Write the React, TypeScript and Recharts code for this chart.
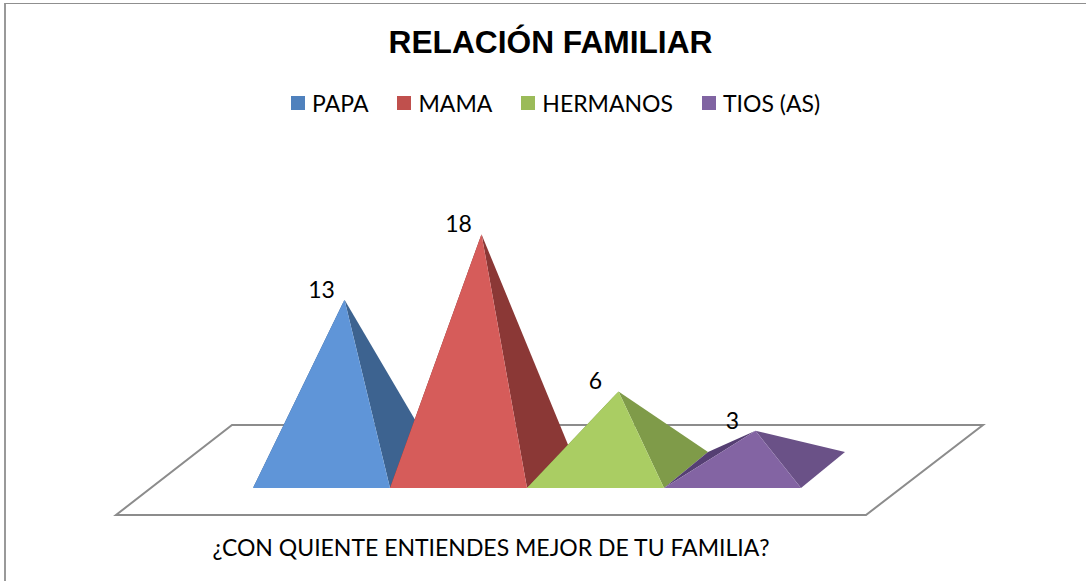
import { BarChart, Bar, XAxis, YAxis, Legend, LabelList } from "recharts";

const categories = ["¿CON QUIENTE ENTIENDES MEJOR DE TU FAMILIA?"];
const seriesNames = ["PAPA", "MAMA", "HERMANOS", "TIOS (AS)"];
const seriesValues = [13, 18, 6, 3];
const legendColors = ["#4f81bd", "#c0504d", "#9bbb59", "#8064a2"];
const frontColors = ["#5f95d8", "#d65c5a", "#aacd63", "#8364a3"];
const sideColors = ["#3d6390", "#8b3836", "#7f9b49", "#6a5187"];
const backLeftColors = ["#345580", "#7a302e", "#6f8a3f", "#553f73"];

const chartData = categories.map((category) => {
  const row: Record<string, string | number> = { category };
  seriesNames.forEach((name, i) => {
    row[name] = seriesValues[i];
  });
  return row;
});

const FONT = "Lato, sans-serif";
// how far the back of the 3D base sits from the front edge
const DEPTH_X = 44;
const DEPTH_Y = 36;

function Pyramid({ x, y, width, height, front, side, backLeft }: any) {
  const base = y + height;
  const apexX = x + width / 2 + DEPTH_X / 2 + 1;
  const apexY = y - DEPTH_Y / 2;
  const apex = `${apexX},${apexY}`;
  return (
    <g>
      <polygon points={`${x},${base} ${x + DEPTH_X},${base - DEPTH_Y} ${apex}`} fill={backLeft} />
      <polygon points={`${x + width},${base} ${x + width + DEPTH_X},${base - DEPTH_Y} ${apex}`} fill={side} />
      <polygon points={`${x},${base} ${x + width},${base} ${apex}`} fill={front} />
    </g>
  );
}

function LegendRow({ payload }: any) {
  return (
    <div style={{ display: "flex", gap: 29, height: 30, fontFamily: FONT, fontSize: 23, lineHeight: "30px", color: "#000" }}>
      {(payload || []).map((item: any) => (
        <div key={item.value} style={{ display: "flex", alignItems: "center", gap: 7, whiteSpace: "nowrap" }}>
          <span style={{ width: 14, height: 14, background: item.color, display: "inline-block" }} />
          {item.value}
        </div>
      ))}
    </div>
  );
}

export default function App() {
  return (
    <div style={{ position: "absolute", left: 0, top: 0, width: 1086, height: 581, background: "#fff", overflow: "hidden" }}>
      <div style={{ position: "absolute", left: 4, top: 3, width: 1090, height: 590, borderLeft: "2px solid #999", borderTop: "1px solid #8f8f8f" }} />
      <BarChart
        width={1086}
        height={581}
        data={chartData}
        margin={{ top: 196, right: 184, bottom: 0, left: 151 }}
        barGap={0}
        barSize={137}
      >
        {/* floor of the 3D plot */}
        <polygon points="116,515 866,515 983,425 232,425" fill="#fff" stroke="#8c8c8c" strokeWidth={2} />
        <text x={550.5} y={53} textAnchor="middle" fontFamily="Liberation Sans, Arial, sans-serif" fontWeight={700} fontSize={31.7}>
          RELACIÓN FAMILIAR
        </text>
        <XAxis
          dataKey="category"
          axisLine={false}
          tickLine={false}
          height={93}
          interval={0}
          tick={{ fontFamily: FONT, fontSize: 23, fill: "#000", dx: -35.5, dy: 44 }}
        />
        <YAxis hide domain={[0, 20]} />
        <Legend
          verticalAlign="top"
          align="left"
          itemSorter={null}
          content={<LegendRow />}
          wrapperStyle={{ top: 88, left: 291, width: "auto" }}
        />
        {seriesNames.map((name, i) => (
          <Bar
            key={name}
            dataKey={name}
            fill={legendColors[i]}
            isAnimationActive={false}
            shape={(props: any) => (
              <Pyramid {...props} front={frontColors[i]} side={sideColors[i]} backLeft={backLeftColors[i]} />
            )}
          >
            <LabelList
              dataKey={name}
              position="top"
              offset={20}
              style={{ fontFamily: FONT, fontSize: 23, fill: "#000" }}
            />
          </Bar>
        ))}
      </BarChart>
    </div>
  );
}
